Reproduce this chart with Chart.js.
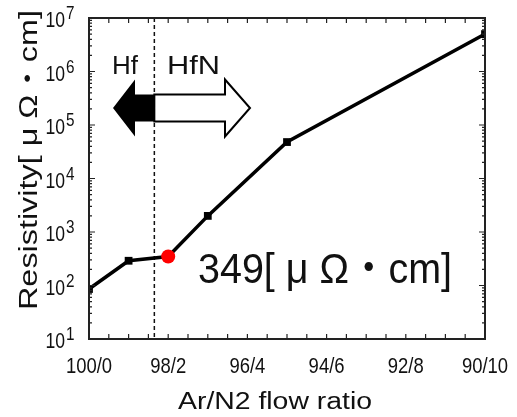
<!DOCTYPE html>
<html>
<head>
<meta charset="utf-8">
<script src="https://cdn.jsdelivr.net/npm/chart.js@4.4.0/dist/chart.umd.min.js"></script>
<style>
  html, body { margin: 0; padding: 0; background: #fff; }
</style>
</head>
<body>
<canvas id="resistivityChart" width="517" height="417"></canvas>
<script>
// N2 share in the Ar/N2 flow (0 = 100/0, 10 = 90/10)
const n2Ratio = [0, 1, 2, 3, 5, 10];
const resistivity = [86, 290, 349, 2000, 48000, 5000000];
const xTickValues = [0, 2, 4, 6, 8, 10];
const xTickLabels = ['100/0', '98/2', '96/4', '94/6', '92/8', '90/10'];
const yTickExponents = [1, 2, 3, 4, 5, 6, 7];
const highlightIndex = 2;
const boundaryRatio = 1.65;
const highlightLabel = '349[ μ Ω・cm]';

const LATIN = "'Liberation Sans', 'Noto Sans CJK JP', sans-serif";

// draw text squeezed/stretched to a given width, x = left edge, y = baseline
function fitText(ctx, text, x, y, w, font) {
    ctx.save();
    ctx.font = font;
    const m = ctx.measureText(text).width;
    ctx.translate(x, y);
    ctx.scale(w / m, 1);
    ctx.textAlign = 'left';
    ctx.textBaseline = 'alphabetic';
    ctx.fillText(text, 0, 0);
    ctx.restore();
}

// condensed text, anchored by align
function narrowText(ctx, text, x, y, font, squeeze, align) {
    ctx.save();
    ctx.font = font;
    const w = ctx.measureText(text).width * squeeze;
    let left = x;
    if (align === 'center') left = x - w / 2;
    if (align === 'right') left = x - w;
    ctx.translate(left, y);
    ctx.scale(squeeze, 1);
    ctx.textAlign = 'left';
    ctx.fillText(text, 0, 0);
    ctx.restore();
    return w;
}

const decorations = {
    id: 'decorations',
    beforeDatasetsDraw(chart) {
        const ctx = chart.ctx;
        const area = chart.chartArea;
        const bx = chart.scales.x.getPixelForValue(boundaryRatio);

        // Hf / HfN boundary
        ctx.save();
        ctx.strokeStyle = '#111';
        ctx.lineWidth = 1.5;
        ctx.setLineDash([4, 3]);
        ctx.beginPath();
        ctx.moveTo(bx, area.top);
        ctx.lineTo(bx, area.bottom);
        ctx.stroke();
        ctx.restore();

        // arrows
        const cy = 108, shaftH = 13.5, headH = 28.5;
        ctx.save();
        ctx.fillStyle = '#000';
        ctx.beginPath();
        ctx.moveTo(113, cy);
        ctx.lineTo(135, cy - headH);
        ctx.lineTo(135, cy - shaftH);
        ctx.lineTo(bx, cy - shaftH);
        ctx.lineTo(bx, cy + shaftH);
        ctx.lineTo(135, cy + shaftH);
        ctx.lineTo(135, cy + headH);
        ctx.closePath();
        ctx.fill();

        ctx.fillStyle = '#fff';
        ctx.strokeStyle = '#000';
        ctx.lineWidth = 2;
        ctx.lineJoin = 'miter';
        ctx.beginPath();
        ctx.moveTo(bx, cy - shaftH);
        ctx.lineTo(225, cy - shaftH);
        ctx.lineTo(225, cy - headH);
        ctx.lineTo(250, cy);
        ctx.lineTo(225, cy + headH);
        ctx.lineTo(225, cy + shaftH);
        ctx.lineTo(bx, cy + shaftH);
        ctx.closePath();
        ctx.fill();
        ctx.stroke();
        ctx.restore();

        ctx.save();
        ctx.fillStyle = '#111';
        fitText(ctx, 'Hf', 112, 74, 26, '26px ' + LATIN);
        fitText(ctx, 'HfN', 167, 74, 53, '26px ' + LATIN);
        ctx.restore();
    },
    afterDraw(chart) {
        const ctx = chart.ctx;
        const area = chart.chartArea;
        const xs = chart.scales.x;
        const ys = chart.scales.y;

        ctx.save();
        ctx.strokeStyle = '#222';
        ctx.fillStyle = '#111';

        // ticks, inward on all sides
        ctx.lineWidth = 1.2;
        ctx.beginPath();
        for (let v = xs.min; v <= xs.max; v += 0.5) {
            const px = xs.getPixelForValue(v);
            ctx.moveTo(px, area.bottom);
            ctx.lineTo(px, area.bottom - 5);
            ctx.moveTo(px, area.top);
            ctx.lineTo(px, area.top + 5);
        }
        yTickExponents.forEach(e => {
            for (let k = 1; k <= 9; k++) {
                const val = k * Math.pow(10, e);
                if (val > ys.max) break;
                const py = ys.getPixelForValue(val);
                const len = k === 1 ? 6 : 3;
                ctx.moveTo(area.left, py);
                ctx.lineTo(area.left + len, py);
                ctx.moveTo(area.right, py);
                ctx.lineTo(area.right - len, py);
            }
        });
        ctx.stroke();

        // frame
        ctx.lineWidth = 2;
        ctx.strokeRect(area.left, area.top, area.right - area.left, area.bottom - area.top);

        // x tick labels
        xTickValues.forEach((v, i) => {
            narrowText(ctx, xTickLabels[i], xs.getPixelForValue(v), 373, '22px ' + LATIN, 0.84, 'center');
        });

        // y tick labels 10^n
        yTickExponents.forEach(e => {
            const py = ys.getPixelForValue(Math.pow(10, e));
            narrowText(ctx, '10', 65, py + 9, '22px ' + LATIN, 0.8, 'right');
            narrowText(ctx, String(e), 66, py + 1, '18px ' + LATIN, 0.85, 'left');
        });

        // axis titles
        fitText(ctx, 'Ar/N2 flow ratio', 178, 409, 194, '23px ' + LATIN);
        ctx.save();
        ctx.translate(37, 310);
        ctx.rotate(-Math.PI / 2);
        fitText(ctx, 'Resistivity[ μ Ω・cm]', 0, 0, 300, '26px ' + LATIN);
        ctx.restore();

        // value of the highlighted point
        fitText(ctx, highlightLabel, 198, 283, 254, '43px ' + LATIN);
        ctx.restore();
    }
};

new Chart(document.getElementById('resistivityChart'), {
    type: 'line',
    data: {
        datasets: [{
            data: n2Ratio.map((x, i) => ({ x: x, y: resistivity[i] })),
            borderColor: '#000',
            borderWidth: 3.5,
            tension: 0,
            clip: 0,
            pointStyle: n2Ratio.map((x, i) => i === highlightIndex ? 'circle' : 'rect'),
            pointRadius: n2Ratio.map((x, i) => i === highlightIndex ? 7 : 5.5),
            pointBackgroundColor: n2Ratio.map((x, i) => i === highlightIndex ? '#ff0000' : '#000'),
            pointBorderColor: n2Ratio.map((x, i) => i === highlightIndex ? '#ff0000' : '#000'),
            pointBorderWidth: 0
        }]
    },
    options: {
        responsive: false,
        animation: false,
        devicePixelRatio: 1,
        layout: { padding: { left: 89, right: 32, top: 18, bottom: 78 } },
        plugins: {
            legend: { display: false },
            tooltip: { enabled: false }
        },
        scales: {
            x: { type: 'linear', min: 0, max: 10, display: false },
            y: { type: 'logarithmic', min: 10, max: 10000000, display: false }
        }
    },
    plugins: [decorations]
});
</script>
</body>
</html>
